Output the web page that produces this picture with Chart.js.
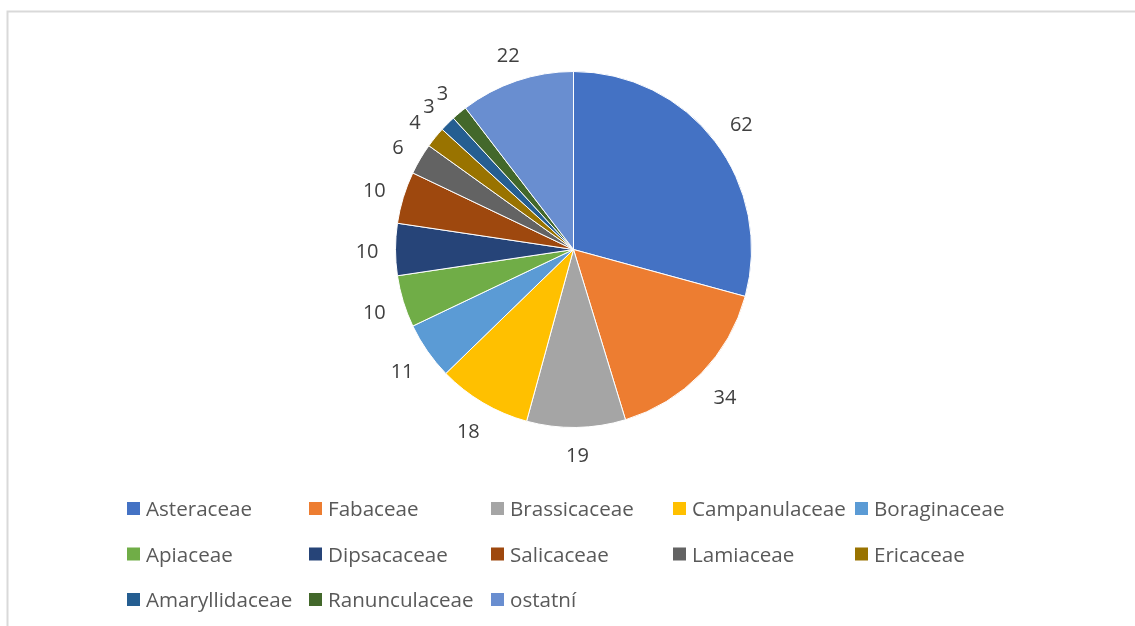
<!DOCTYPE html>
<html>
<head>
<meta charset="utf-8">
<script src="https://cdn.jsdelivr.net/npm/chart.js@4"></script>
<style>
  html, body { margin: 0; padding: 0; background: #fff; }
  #wrap { width: 1135px; height: 626px; position: relative; }
</style>
</head>
<body>
<div id="wrap"><canvas id="familyChart"></canvas></div>
<script>
const families = [
  "Asteraceae", "Fabaceae", "Brassicaceae", "Campanulaceae", "Boraginaceae",
  "Apiaceae", "Dipsacaceae", "Salicaceae", "Lamiaceae", "Ericaceae",
  "Amaryllidaceae", "Ranunculaceae", "ostatní"
];
const speciesCount = [62, 34, 19, 18, 11, 10, 10, 10, 6, 4, 3, 3, 22];
const palette = [
  "#4472C4", "#ED7D31", "#A5A5A5", "#FFC000", "#5B9BD5",
  "#70AD47", "#264478", "#9E480E", "#636363", "#997300",
  "#255E91", "#43682B", "#698ED0"
];

const FONT = "'Open Sans', 'Noto Sans', sans-serif";

// light frame around the whole chart
const framePlugin = {
  id: "frame",
  beforeDraw(chart) {
    const ctx = chart.ctx;
    ctx.save();
    ctx.fillStyle = "#fff";
    ctx.fillRect(0, 0, chart.width, chart.height);
    ctx.strokeStyle = "#d9d9d9";
    ctx.lineWidth = 2;
    ctx.strokeRect(7.5, 11.5, chart.width + 20, chart.height + 20);
    ctx.restore();
  }
};

// value labels just outside each slice
const outsideLabels = {
  id: "outsideLabels",
  afterDatasetsDraw(chart) {
    const ctx = chart.ctx;
    const meta = chart.getDatasetMeta(0);
    const values = chart.data.datasets[0].data;
    ctx.save();
    ctx.font = "20px " + FONT;
    ctx.fillStyle = "#404040";
    ctx.textAlign = "center";
    ctx.textBaseline = "middle";
    meta.data.forEach((arc, i) => {
      const p = arc.getProps(["x", "y", "startAngle", "endAngle", "outerRadius"], true);
      const mid = (p.startAngle + p.endAngle) / 2;
      const txt = String(values[i]);
      const w = ctx.measureText(txt).width;
      const h = 16;
      const cos = Math.cos(mid), sin = Math.sin(mid);
      const dist = p.outerRadius + 18 + Math.abs(cos) * w / 2 + Math.abs(sin) * h / 2;
      ctx.fillText(txt, p.x + cos * dist + 1, p.y + sin * dist + 3);
    });
    ctx.restore();
  }
};

// legend laid out in fixed columns under the pie
const gridLegend = {
  id: "gridLegend",
  afterDraw(chart) {
    const ctx = chart.ctx;
    const labels = chart.data.labels;
    const colors = chart.data.datasets[0].backgroundColor;
    const cols = 5, colW = 182, rowH = 45.5;
    const x0 = 127, y0 = 508.5, box = 13;
    ctx.save();
    ctx.font = "20.6px " + FONT;
    ctx.textBaseline = "alphabetic";
    ctx.textAlign = "left";
    labels.forEach((name, i) => {
      const x = x0 + (i % cols) * colW;
      const y = y0 + Math.floor(i / cols) * rowH;
      ctx.fillStyle = colors[i];
      ctx.fillRect(x, y - box / 2, box, box);
      ctx.fillStyle = "#595959";
      ctx.fillText(name, x + box + 6, y + 7.5);
    });
    ctx.restore();
  }
};

new Chart(document.getElementById("familyChart"), {
  type: "pie",
  data: {
    labels: families,
    datasets: [{
      data: speciesCount,
      backgroundColor: palette,
      borderColor: "#ffffff",
      borderWidth: 1
    }]
  },
  options: {
    responsive: true,
    maintainAspectRatio: false,
    animation: false,
    layout: { padding: { top: 71, bottom: 198, left: 12, right: 0 } },
    plugins: {
      legend: { display: false },
      tooltip: { enabled: false }
    }
  },
  plugins: [framePlugin, outsideLabels, gridLegend]
});
</script>
</body>
</html>
